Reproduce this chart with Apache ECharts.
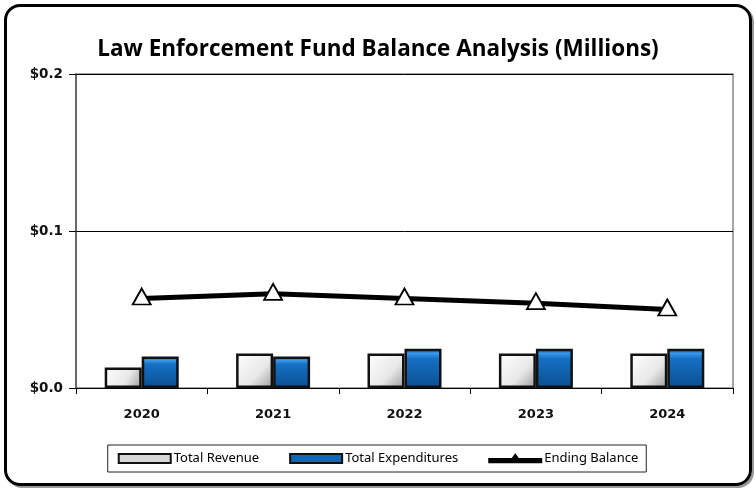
<!DOCTYPE html>
<html>
<head>
<meta charset="utf-8">
<script src="https://cdn.jsdelivr.net/npm/echarts@6/dist/echarts.min.js"></script>
<style>
  html, body { margin: 0; padding: 0; background: #fff; }
  #frame {
    position: absolute; left: 4px; top: 4px; width: 742px; height: 476px;
    border: 3px solid #000; border-radius: 16px; box-shadow: 2px 2px 0 #999;
  }
  #chart { position: absolute; left: 0; top: 0; width: 756px; height: 489px; }
</style>
</head>
<body>
<div id="frame"></div>
<div id="chart"></div>
<script>
const years = ['2020', '2021', '2022', '2023', '2024'];
const totalRevenue = [0.013, 0.022, 0.022, 0.022, 0.022];
const totalExpenditures = [0.020, 0.020, 0.025, 0.025, 0.025];
const endingBalance = [0.057, 0.060, 0.057, 0.054, 0.050];

const chart = echarts.init(document.getElementById('chart'));

const greyFill = new echarts.graphic.LinearGradient(0, 0, 1, 1, [
  { offset: 0, color: '#ffffff' },
  { offset: 0.6, color: '#e8e8e8' },
  { offset: 1, color: '#9a9a9a' },
]);
const blueFill = new echarts.graphic.LinearGradient(0, 0, 0, 1, [
  { offset: 0, color: '#0d5ea8' },
  { offset: 0.12, color: '#3a98e8' },
  { offset: 0.25, color: '#1570c4' },
  { offset: 1, color: '#0a4f90' },
]);

const option = {
  animation: false,
  title: {
    text: 'Law Enforcement Fund Balance Analysis (Millions)',
    left: 'center',
    top: 33,
    textStyle: {
      fontFamily: 'Open Sans',
      fontWeight: 'bold',
      fontSize: 22.5,
      color: '#000',
    },
  },
  grid: {
    left: 76,
    right: 23,
    top: 74,
    bottom: 101,
    show: true,
    borderColor: '#888',
    borderWidth: 1.5,
  },
  legend: {
    bottom: 17,
    left: 'center',
    itemWidth: 52,
    itemHeight: 9,
    itemGap: 30,
    padding: [7, 8, 7, 10],
    borderColor: '#222',
    borderWidth: 1,
    textStyle: { fontFamily: 'Noto Sans', fontSize: 13, color: '#000', padding: [0, 0, 0, -2] },
    data: [
      { name: 'Total Revenue', icon: 'rect', itemStyle: { color: '#d8d8d8', borderColor: '#111', borderWidth: 2 } },
      { name: 'Total Expenditures', icon: 'rect', itemStyle: { color: '#1565b0', borderColor: '#111', borderWidth: 2 } },
      { name: 'Ending Balance', icon: 'path://M0,4 H22 L25,0 L28,4 H50 V7 H0 Z', itemStyle: { color: '#000' } },
    ],
  },
  xAxis: {
    type: 'category',
    data: years,
    axisLine: { lineStyle: { color: '#000', width: 1 } },
    axisTick: { show: true, inside: false, length: 6, lineStyle: { color: '#000' } },
    axisLabel: {
      fontFamily: 'DejaVu Sans',
      fontWeight: 'bold',
      fontSize: 13,
      color: '#111',
      margin: 20,
    },
  },
  yAxis: {
    type: 'value',
    min: 0,
    max: 0.2,
    interval: 0.1,
    axisLine: { show: true, lineStyle: { color: '#555', width: 1.5 } },
    axisTick: { show: true, length: 7, lineStyle: { color: '#000' } },
    splitLine: { lineStyle: { color: '#000', width: 1 } },
    axisLabel: {
      formatter: v => '$' + v.toFixed(1),
      fontFamily: 'DejaVu Sans',
      fontWeight: 'bold',
      fontSize: 13.5,
      color: '#111',
      margin: 13,
    },
  },
  series: [
    {
      name: 'Total Revenue',
      type: 'bar',
      data: totalRevenue,
      barWidth: 37,
      barGap: '0%',
      itemStyle: { color: greyFill, borderColor: '#111', borderWidth: 2.5 },
    },
    {
      name: 'Total Expenditures',
      type: 'bar',
      data: totalExpenditures,
      barWidth: 37,
      barGap: '0%',
      itemStyle: { color: blueFill, borderColor: '#111', borderWidth: 2.5 },
    },
    {
      name: 'Ending Balance',
      type: 'line',
      data: endingBalance,
      symbol: 'triangle',
      symbolSize: [18, 16],
      symbolOffset: [0, -2],
      lineStyle: { color: '#000', width: 5 },
      itemStyle: { color: '#fff', borderColor: '#000', borderWidth: 1.8 },
      z: 5,
    },
  ],
};

chart.setOption(option);
</script>
</body>
</html>
